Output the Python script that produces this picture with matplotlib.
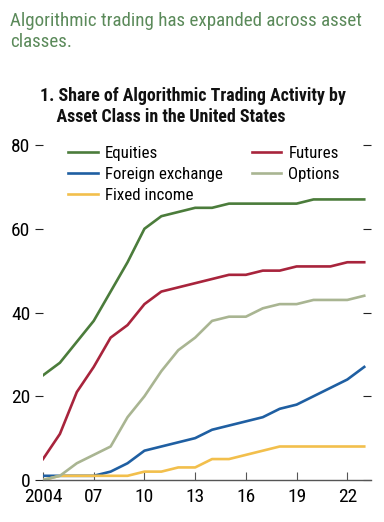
import numpy as np
import matplotlib.pyplot as plt
from matplotlib import font_manager

years = np.arange(2004, 2024)
equities = [25, 28, 33, 38, 45, 52, 60, 63, 64, 65, 65, 66, 66, 66, 66, 66, 67, 67, 67, 67]
futures = [5, 11, 21, 27, 34, 37, 42, 45, 46, 47, 48, 49, 49, 50, 50, 51, 51, 51, 52, 52]
fx = [1, 1, 1, 1, 2, 4, 7, 8, 9, 10, 12, 13, 14, 15, 17, 18, 20, 22, 24, 27]
options = [0, 1, 4, 6, 8, 15, 20, 26, 31, 34, 38, 39, 39, 41, 42, 42, 43, 43, 43, 44]
fixed_income = [0, 1, 1, 1, 1, 1, 2, 2, 3, 3, 5, 5, 6, 7, 8, 8, 8, 8, 8, 8]

xticks = [2004, 2007, 2010, 2013, 2016, 2019, 2022]
xticklabels = ["2004", "07", "10", "13", "16", "19", "22"]
yticks = [0, 20, 40, 60, 80]

# pick a condensed face if there is one, else a plain sans
names = {f.name for f in font_manager.fontManager.ttflist}
font = "Liberation Sans"
for cand in ["Roboto Condensed", "PT Sans Narrow", "Open Sans Condensed",
             "Liberation Sans Narrow", "Archivo Narrow"]:
    if cand in names:
        font = cand
        break
plt.rcParams["font.family"] = [font, "DejaVu Sans"]

fig = plt.figure(figsize=(3.84, 5.22), dpi=100)
ax = fig.add_axes([43/384, 1 - 480/522, (371 - 43)/384, (480 - 145)/522])

ax.plot(years, equities, color="#4b7c3b", lw=1.9, label="Equities")
ax.plot(years, fx, color="#1f5fa2", lw=1.9, label="Foreign exchange")
ax.plot(years, fixed_income, color="#f2bf4c", lw=1.9, label="Fixed income")
ax.plot(years, futures, color="#a8243c", lw=1.9, label="Futures")
ax.plot(years, options, color="#a9b592", lw=1.9, label="Options")

ax.set_xlim(2004, 2023.4)
ax.set_ylim(0, 80)
ax.set_xticks(xticks)
ax.set_xticklabels(xticklabels)
ax.set_yticks(yticks)
ax.tick_params(axis="x", direction="in", length=6, color="#555555", labelsize=14, pad=6)
ax.tick_params(axis="y", direction="out", length=6, color="#222222", labelsize=14, pad=3,
               right=True, labelright=False)
for side in ["left", "top", "right"]:
    ax.spines[side].set_visible(False)
ax.spines["bottom"].set_color("#555555")
ax.spines["bottom"].set_linewidth(1.0)
# right-hand ticks point inward from the right edge
for t in ax.yaxis.get_major_ticks():
    t.tick2line.set_marker(0)
    t.tick2line.set_markersize(6)

ax.legend(ncol=2, loc="upper left", bbox_to_anchor=(0.056, 1.018), frameon=False,
          fontsize=12.2, handlelength=1.75, handletextpad=0.42, columnspacing=1.7,
          labelspacing=0.36, borderaxespad=0)

fig.text(10/384, 1 - 12/522, "Algorithmic trading has expanded across asset\nclasses.",
         color="#5b8a5a", fontsize=13.7, va="top", linespacing=1.2)
fig.text(40/384, 1 - 87/522, "1. Share of Algorithmic Trading Activity by\n    Asset Class in the United States",
         color="#111111", fontsize=12.9, fontweight="bold", va="top", linespacing=1.2)

fig.savefig("out.png", dpi=100)
